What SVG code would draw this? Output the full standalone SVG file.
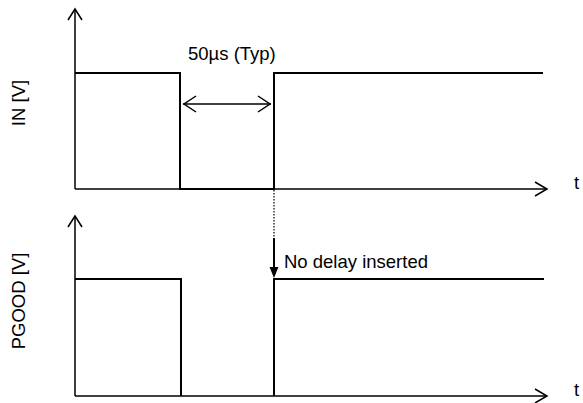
<svg xmlns="http://www.w3.org/2000/svg" width="583" height="403" viewBox="0 0 583 403">
<style>
text{font-family:"Liberation Sans",Arial,sans-serif;font-size:18.5px;fill:#000}
.ax{fill:none;stroke:#000;stroke-width:1.5}
.wf{fill:none;stroke:#000;stroke-width:2;stroke-linejoin:miter}
.open{fill:none;stroke:#000;stroke-width:1.5}
</style>
<rect width="583" height="403" fill="#fff"/>
<g id="in-axes">
<line class="ax" x1="75" y1="189" x2="75" y2="10"/>
<polyline class="open" points="68,20 75,9 82,20"/>
<line class="ax" x1="75" y1="189" x2="546" y2="189"/>
<polyline class="open" points="535,182 547,189 535,196"/>
<text x="574" y="189">t</text>
<text transform="translate(25,103) rotate(-90)" text-anchor="middle">IN [V]</text>
</g>
<g id="in-wave">
<polyline class="wf" points="75,73 180,73 180,189 274,189 274,73 543,73"/>
</g>
<g id="in-label">
<text x="188" y="60">50µs (Typ)</text>
</g>
<g id="pgood-axes">
<line class="ax" x1="75" y1="396" x2="75" y2="216"/>
<polyline class="open" points="68,227 75,216 82,227"/>
<line class="ax" x1="75" y1="396" x2="546" y2="396"/>
<polyline class="open" points="535,389 547,396 535,403"/>
<text x="574" y="396">t</text>
<text transform="translate(25,301) rotate(-90)" text-anchor="middle">PGOOD [V]</text>
</g>
<g id="pgood-wave">
<polyline class="wf" points="75,279 181,279 181,396"/>
<polyline class="wf" points="274,396 274,279 544,279"/>
</g>
<g id="pgood-label">
<text x="284" y="268">No delay inserted</text>
</g>
<g id="connectors">
<line class="ax" x1="183" y1="104" x2="271" y2="104"/>
<polyline class="open" points="196,96 184,104 196,112"/>
<polyline class="open" points="258,96 270,104 258,112"/>
<line x1="274" y1="190" x2="274" y2="238" stroke="#000" stroke-width="1.2" stroke-dasharray="1.5,1.5"/>
<line x1="274" y1="238" x2="274" y2="268" stroke="#000" stroke-width="2"/>
<polygon points="269.5,267 278.5,267 274,278" fill="#000"/>
</g>
</svg>
